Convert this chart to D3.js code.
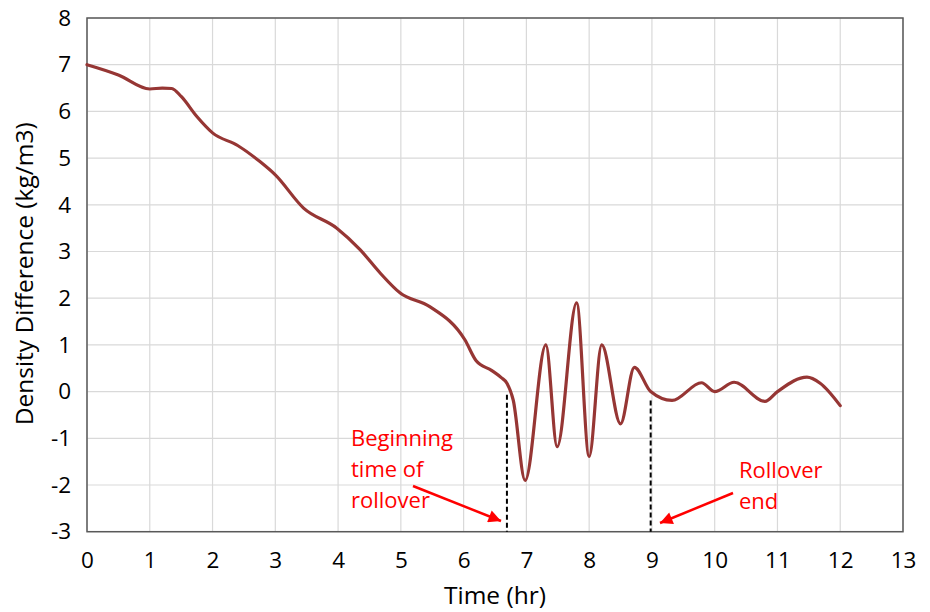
<!DOCTYPE html>
<html>
<head>
<meta charset="utf-8">
<script src="https://cdn.jsdelivr.net/npm/d3@7"></script>
<style>
  body { margin: 0; background: #fff; }
  svg { display: block; font-family: "Open Sans", sans-serif; }
</style>
</head>
<body>
<svg id="chart" width="930" height="612"></svg>
<script>
// ---- data ----
const timeHr = [0, 0.5, 1.0, 1.2, 1.35, 1.5, 1.75, 2.0, 2.4, 2.75, 3.0, 3.45, 3.98, 4.35, 4.67, 4.99, 5.46, 6.02, 6.2, 6.45, 6.6, 6.69, 6.79, 6.98, 7.31, 7.49, 7.8, 8.0, 8.2, 8.5, 8.72, 8.98, 9.32, 9.79, 10.0, 10.31, 10.8, 11.0, 11.47, 11.68, 12.0];
const densityDiff = [7.0, 6.78, 6.48, 6.5, 6.49, 6.32, 5.89, 5.54, 5.27, 4.93, 4.64, 3.93, 3.5, 3.04, 2.54, 2.11, 1.82, 1.11, 0.66, 0.45, 0.3, 0.18, -0.18, -1.9, 1.0, -1.18, 1.9, -1.39, 1.0, -0.69, 0.52, 0.0, -0.19, 0.19, 0.0, 0.2, -0.21, 0.0, 0.31, 0.18, -0.3];
const xTicks = [0,1,2,3,4,5,6,7,8,9,10,11,12,13];
const yTicks = [-3,-2,-1,0,1,2,3,4,5,6,7,8];
const markerTimes = [6.69, 8.98];
const markerTops = [-0.07, -0.19];
const annotationBegin = ["Beginning", "time of", "rollover"];
const annotationEnd = ["Rollover", "end"];
const xTitle = "Time (hr)";
const yTitle = "Density Difference (kg/m3)";

// ---- layout ----
const L = 87, R = 903, T = 18, B = 531.7;
const svg = d3.select("#chart");
const x = d3.scaleLinear().domain([0, 13]).range([L, R]);
const y = d3.scaleLinear().domain([-3, 8]).range([B, T]);

// grid
svg.append("g").selectAll("line.v").data(xTicks).join("line")
  .attr("x1", d => x(d)).attr("x2", d => x(d)).attr("y1", T).attr("y2", B)
  .attr("stroke", "#d9d9d9").attr("stroke-width", 1.2);
svg.append("g").selectAll("line.h").data(yTicks).join("line")
  .attr("x1", L).attr("x2", R).attr("y1", d => y(d)).attr("y2", d => y(d))
  .attr("stroke", "#d9d9d9").attr("stroke-width", 1.2);

// axes labels
const fmt = d => String(d);
const xAxis = d3.axisBottom(x).tickValues(xTicks).tickSize(0).tickPadding(20).tickFormat(fmt);
const gx = svg.append("g").attr("transform", `translate(0,${B})`).call(xAxis);
gx.select(".domain").remove();
gx.selectAll("text").attr("font-size", 22.5).attr("fill", "#000").attr("font-family", "Open Sans, sans-serif");

const yAxis = d3.axisLeft(y).tickValues(yTicks).tickSize(0).tickPadding(16).tickFormat(fmt);
const gy = svg.append("g").attr("transform", `translate(${L},0)`).call(yAxis);
gy.select(".domain").remove();
gy.selectAll("text").attr("font-size", 22.5).attr("fill", "#000").attr("font-family", "Open Sans, sans-serif");

// border
svg.append("rect").attr("x", L).attr("y", T).attr("width", R - L).attr("height", B - T)
  .attr("fill", "none").attr("stroke", "#595959").attr("stroke-width", 1.5);

// titles
svg.append("text").attr("x", (L + R) / 2).attr("y", 604).attr("text-anchor", "middle")
  .attr("font-size", 24.5).attr("fill", "#000").text(xTitle);
svg.append("text").attr("transform", `translate(33,${(T + B) / 2 - 1}) rotate(-90)`).attr("text-anchor", "middle")
  .attr("font-size", 24.5).attr("fill", "#000").text(yTitle);

// marker dashed lines
svg.append("g").selectAll("line").data(markerTimes).join("line")
  .attr("x1", d => x(d)).attr("x2", d => x(d))
  .attr("y1", (d, i) => y(markerTops[i])).attr("y2", B)
  .attr("stroke", "#000").attr("stroke-width", 2).attr("stroke-dasharray", "5,3");

// curve
const pts = timeHr.map((t, i) => [t, densityDiff[i]]);
const line = d3.line().x(d => x(d[0])).y(d => y(d[1])).curve(d3.curveMonotoneX);
svg.append("path").datum(pts).attr("d", line)
  .attr("fill", "none").attr("stroke", "#963634").attr("stroke-width", 3.2)
  .attr("stroke-linejoin", "round").attr("stroke-linecap", "round");

// annotations
const red = "#ff0000";
svg.append("defs").append("marker").attr("id", "arr")
  .attr("viewBox", "0 0 10 10").attr("refX", 10).attr("refY", 5)
  .attr("markerWidth", 6).attr("markerHeight", 5).attr("markerUnits", "strokeWidth")
  .attr("orient", "auto")
  .append("path").attr("d", "M0,0 L10,5 L0,10 Z").attr("fill", red);

const tb = svg.append("text").attr("x", 351).attr("y", 446).attr("font-size", 22).attr("fill", red);
annotationBegin.forEach((s, i) => tb.append("tspan").attr("x", 351).attr("dy", i === 0 ? 0 : 31).text(s));
const te = svg.append("text").attr("x", 739).attr("y", 478).attr("font-size", 22).attr("fill", red);
annotationEnd.forEach((s, i) => te.append("tspan").attr("x", 739).attr("dy", i === 0 ? 0 : 31).text(s));

svg.append("line").attr("x1", 413).attr("y1", 486).attr("x2", 501).attr("y2", 521)
  .attr("stroke", red).attr("stroke-width", 2.5).attr("marker-end", "url(#arr)");
svg.append("line").attr("x1", 733).attr("y1", 493).attr("x2", 660).attr("y2", 523)
  .attr("stroke", red).attr("stroke-width", 2.5).attr("marker-end", "url(#arr)");
</script>
</body>
</html>
